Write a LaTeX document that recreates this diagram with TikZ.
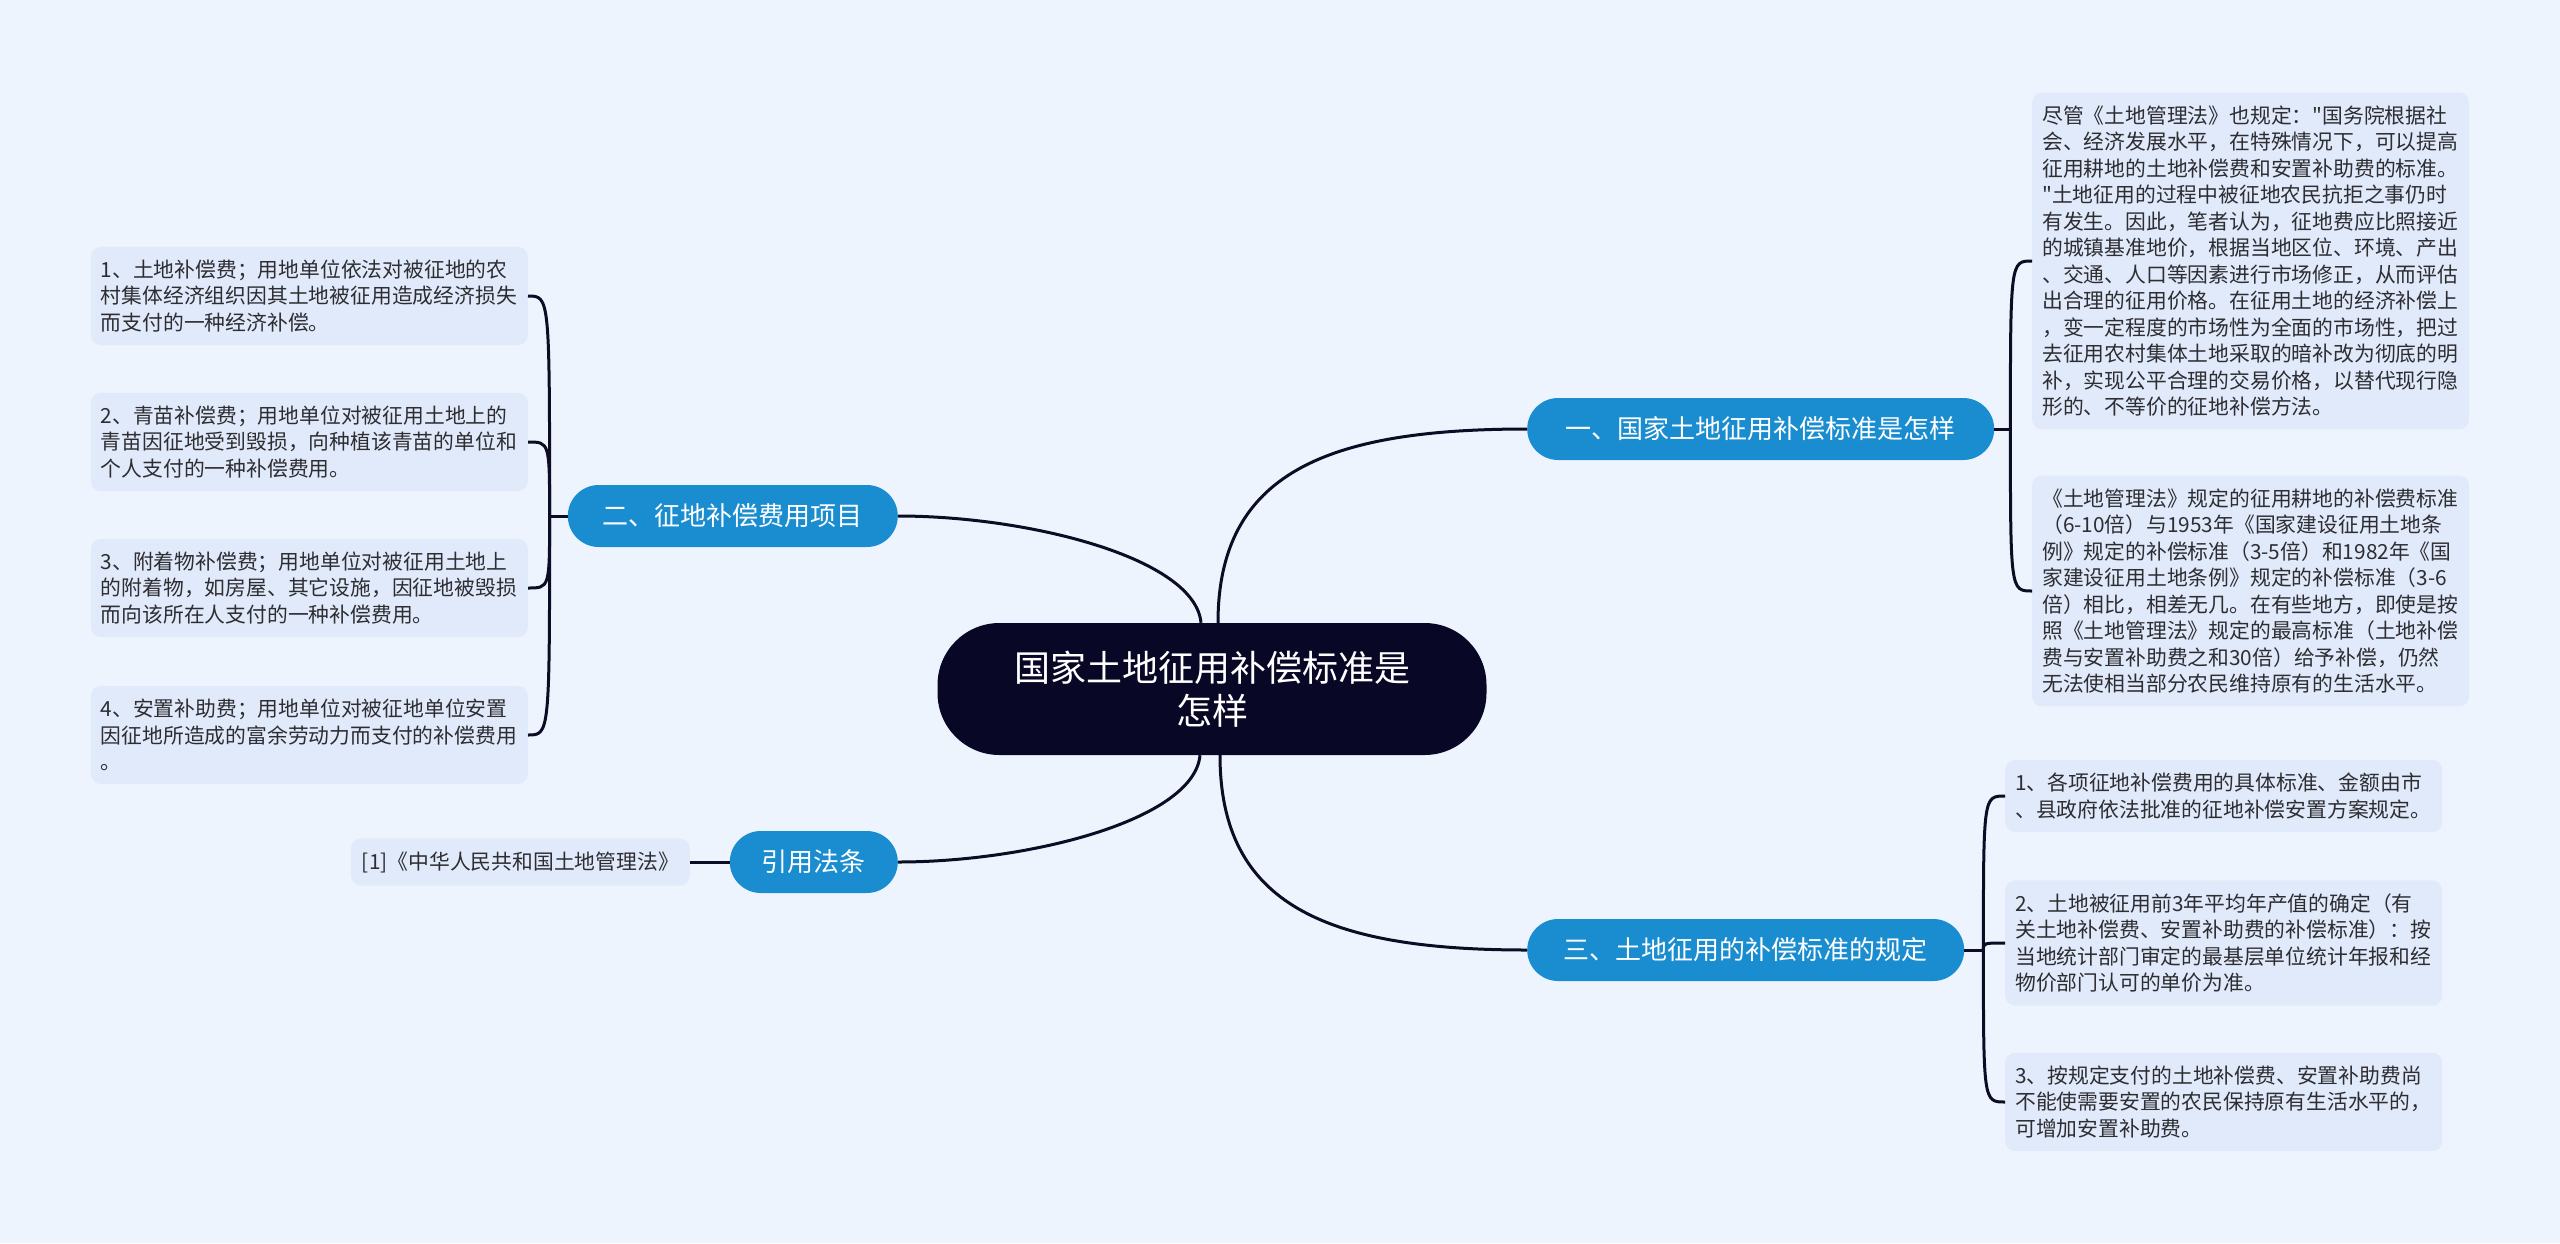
\documentclass[tikz,border=0pt]{standalone}
\usepackage{fontspec}
\setmainfont{Noto Sans CJK SC}[Ligatures=TeXOff]
\usetikzlibrary{calc}
\definecolor{paper}{RGB}{238,244,254}
\definecolor{note}{RGB}{225,234,250}
\definecolor{sky}{RGB}{26,141,208}
\definecolor{night}{RGB}{9,7,38}
\definecolor{ink}{RGB}{12,12,36}
\definecolor{txt}{RGB}{45,45,50}
\tikzset{
  root/.style={fill=night,text=white,rounded corners=62pt,minimum width=549pt,
    minimum height=132pt,align=center,font=\fontsize{36}{43}\selectfont},
  topic/.style={fill=sky,text=white,rounded corners=31pt,minimum height=62pt,
    inner xsep=30pt,font=\fontsize{26}{30}\selectfont},
  leaf/.style={fill=note,text=txt,rounded corners=10pt,text width=417pt,
    inner xsep=10pt,inner ysep=13pt,align=left,font=\fontsize{20.8}{26.5}\selectfont},
  link/.style={draw=ink,line width=3pt},
}

\begin{document}
\begin{tikzpicture}[x=1pt,y=-1pt]
  \fill[paper] (0,0) rectangle (2560,1243);
  \useasboundingbox (0,0) rectangle (2560,1243);

  \node[root] (ctr) at (1212,689) {国家土地征用补偿标准是\\怎样};

  \node[topic,anchor=west,minimum width=467pt] (t1) at (1527,429) {一、国家土地征用补偿标准是怎样};
  \node[topic,anchor=east,minimum width=330pt] (t2) at (898,516) {二、征地补偿费用项目};
  \node[topic,anchor=west,minimum width=437pt] (t3) at (1527,950) {三、土地征用的补偿标准的规定};
  \node[topic,anchor=east,minimum width=168pt] (t4) at (898,862) {引用法条};

  % right, upper
  \node[leaf,anchor=west] (r1) at (2032,261) {尽管《土地管理法》也规定："国务院根据社\\会、经济发展水平，在特殊情况下，可以提高\\征用耕地的土地补偿费和安置补助费的标准。\\"土地征用的过程中被征地农民抗拒之事仍时\\有发生。因此，笔者认为，征地费应比照接近\\的城镇基准地价，根据当地区位、环境、产出\\、交通、人口等因素进行市场修正，从而评估\\出合理的征用价格。在征用土地的经济补偿上\\，变一定程度的市场性为全面的市场性，把过\\去征用农村集体土地采取的暗补改为彻底的明\\补，实现公平合理的交易价格，以替代现行隐\\形的、不等价的征地补偿方法。};
  \node[leaf,anchor=west] (r2) at (2032,591) {《土地管理法》规定的征用耕地的补偿费标准\\（6-10倍）与1953年《国家建设征用土地条\\例》规定的补偿标准（3-5倍）和1982年《国\\家建设征用土地条例》规定的补偿标准（3-6\\倍）相比，相差无几。在有些地方，即使是按\\照《土地管理法》规定的最高标准（土地补偿\\费与安置补助费之和30倍）给予补偿，仍然\\无法使相当部分农民维持原有的生活水平。};

  % right, lower
  \node[leaf,anchor=west] (q1) at (2005,796) {1、各项征地补偿费用的具体标准、金额由市\\、县政府依法批准的征地补偿安置方案规定。};
  \node[leaf,anchor=west] (q2) at (2005,943) {2、土地被征用前3年平均年产值的确定（有\\关土地补偿费、安置补助费的补偿标准）：按\\当地统计部门审定的最基层单位统计年报和经\\物价部门认可的单价为准。};
  \node[leaf,anchor=west] (q3) at (2005,1102) {3、按规定支付的土地补偿费、安置补助费尚\\不能使需要安置的农民保持原有生活水平的，\\可增加安置补助费。};

  % left
  \node[leaf,anchor=east] (l1) at (528,296) {1、土地补偿费；用地单位依法对被征地的农\\村集体经济组织因其土地被征用造成经济损失\\而支付的一种经济补偿。};
  \node[leaf,anchor=east] (l2) at (528,442) {2、青苗补偿费；用地单位对被征用土地上的\\青苗因征地受到毁损，向种植该青苗的单位和\\个人支付的一种补偿费用。};
  \node[leaf,anchor=east] (l3) at (528,588) {3、附着物补偿费；用地单位对被征用土地上\\的附着物，如房屋、其它设施，因征地被毁损\\而向该所在人支付的一种补偿费用。};
  \node[leaf,anchor=east] (l4) at (528,735) {4、安置补助费；用地单位对被征地单位安置\\因征地所造成的富余劳动力而支付的补偿费用\\。};

  \node[leaf,text width=,anchor=east,inner xsep=11pt] (ref) at (690,862) {[1]《中华人民共和国土地管理法》};

  % root to topics
  \draw[link] ([xshift=6pt]ctr.north) .. controls +(0,-150) and +(-200,0) .. (t1.west);
  \draw[link] ([xshift=-11pt]ctr.north) .. controls +(-6,-65) and +(130,0) .. (t2.east);
  \draw[link] ([xshift=8pt]ctr.south) .. controls +(0,150) and +(-200,0) .. (t3.west);
  \draw[link] ([xshift=-12pt]ctr.south) .. controls +(-6,65) and +(130,0) .. (t4.east);

  % brackets
  \draw[link] (t1.east) -- ++(16,0) coordinate (s1);
  \foreach \n in {r1,r2}
    \draw[link] (s1) .. controls (s1|-\n.west) and (s1|-\n.west) .. (\n.west);
  \draw[link] (t2.west) -- ++(-18,0) coordinate (s2);
  \foreach \n in {l1,l2,l3,l4}
    \draw[link] (s2) .. controls (s2|-\n.east) and (s2|-\n.east) .. (\n.east);
  \draw[link] (t3.east) -- ++(19,0) coordinate (s3);
  \foreach \n in {q1,q2,q3}
    \draw[link] (s3) .. controls (s3|-\n.west) and (s3|-\n.west) .. (\n.west);
  \draw[link] (t4.west) -- (ref.east);
\end{tikzpicture}
\end{document}
